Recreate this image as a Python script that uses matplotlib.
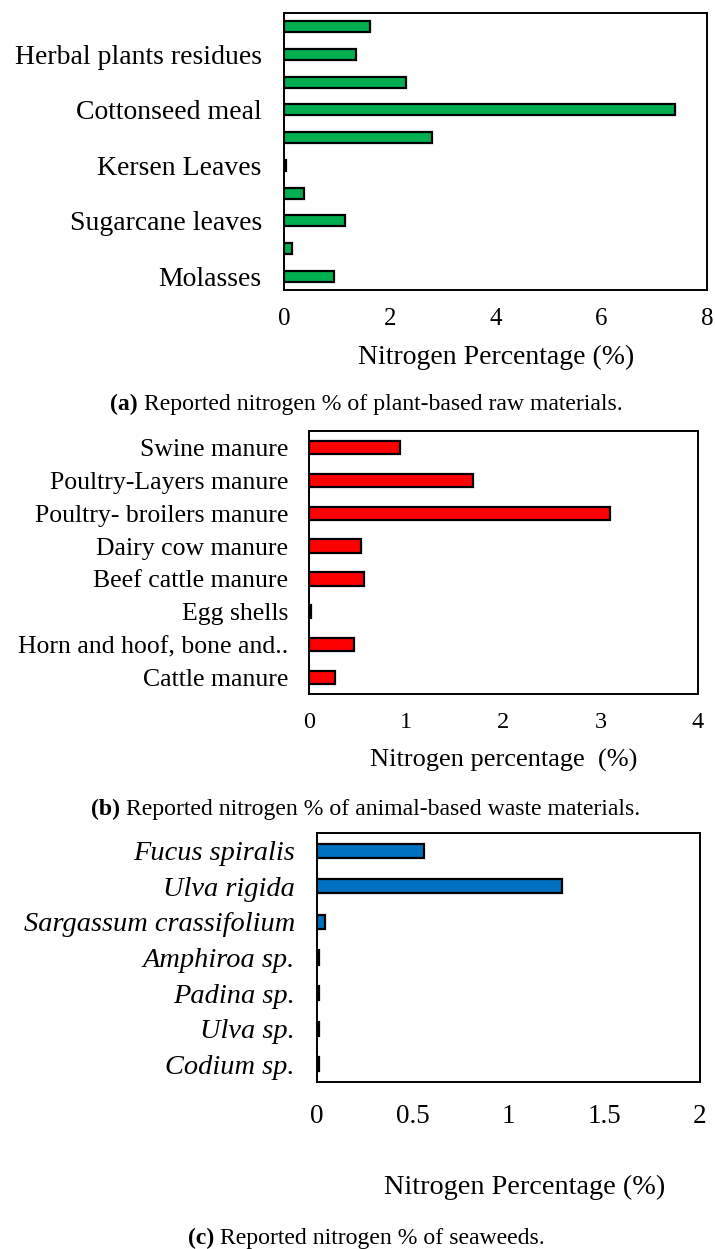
import matplotlib
matplotlib.use("Agg")
import matplotlib.pyplot as plt

plt.rcParams['font.family'] = ['Liberation Serif', 'DejaVu Serif']

# (a) plant-based raw materials, bottom to top (hidden labels left blank)
plant_labels = ['Molasses', '', 'Sugarcane leaves', '', 'Kersen Leaves', '',
                'Cottonseed meal', '', 'Herbal plants residues', '']
plant_values = [0.95, 0.16, 1.15, 0.37, 0.03, 2.79, 7.39, 2.31, 1.37, 1.63]
plant_ticks = [0, 2, 4, 6, 8]

# (b) animal-based waste materials, bottom to top
animal_labels = ['Cattle manure', 'Horn and hoof, bone and..', 'Egg shells',
                 'Beef cattle manure', 'Dairy cow manure',
                 'Poultry- broilers manure', 'Poultry-Layers manure', 'Swine manure']
animal_values = [0.27, 0.46, 0.02, 0.57, 0.53, 3.09, 1.69, 0.94]
animal_ticks = [0, 1, 2, 3, 4]

# (c) seaweeds, bottom to top
seaweed_labels = ['Codium sp.', 'Ulva sp.', 'Padina sp.', 'Amphiroa sp.',
                  'Sargassum crassifolium', 'Ulva rigida', 'Fucus spiralis']
seaweed_values = [0.008, 0.008, 0.008, 0.008, 0.044, 1.28, 0.56]
seaweed_ticks = [0, 0.5, 1, 1.5, 2]
seaweed_ticklabels = ['0', '0.5', '1', '1.5', '2']

W, H = 715, 1249
fig = plt.figure(figsize=(W / 100, H / 100), dpi=100)


def box(left, top, right, bottom):
    return [left / W, 1 - bottom / H, (right - left) / W, (bottom - top) / H]


def panel(rect, labels, values, color, xticks, xticklabels, ylsize, xlsize,
          xpad, ypad, italic=False):
    ax = fig.add_axes(rect)
    y = list(range(len(values)))
    ax.barh(y, values, height=0.4, color=color, edgecolor='black', linewidth=1.6,
            zorder=3)
    ax.set_ylim(-0.5, len(values) - 0.5)
    ax.set_xlim(xticks[0], xticks[-1])
    ax.set_yticks(y)
    ax.set_yticklabels(labels, fontsize=ylsize,
                       fontstyle='italic' if italic else 'normal')
    ax.set_xticks(xticks)
    ax.set_xticklabels(xticklabels, fontsize=xlsize)
    ax.tick_params(axis='x', length=0, pad=xpad)
    ax.tick_params(axis='y', length=0, pad=ypad)
    for s in ax.spines.values():
        s.set_linewidth(1.4)
        s.set_color('black')
    return ax


panel(box(284, 13, 707, 290), plant_labels, plant_values, '#00B050',
      plant_ticks, [str(t) for t in plant_ticks], 20, 18, 13, 16)
panel(box(309, 431, 698, 694), animal_labels, animal_values, '#FF0000',
      animal_ticks, [str(t) for t in animal_ticks], 18.5, 17.5, 13, 15)
panel(box(317, 833, 700, 1082), seaweed_labels, seaweed_values, '#0070C0',
      seaweed_ticks, seaweed_ticklabels, 20.4, 19.5, 16, 16, italic=True)

# axis titles
fig.text(496 / W, 1 - 357 / H, 'Nitrogen Percentage (%)', fontsize=20,
         ha='center', va='center')
fig.text(504 / W, 1 - 760 / H, 'Nitrogen percentage  (%)', fontsize=19,
         ha='center', va='center')
fig.text(525 / W, 1 - 1187 / H, 'Nitrogen Percentage (%)', fontsize=20.3,
         ha='center', va='center')

# captions: bold tag + plain text
captions = [
    (110, 404, '(a)', ' Reported nitrogen % of plant-based raw materials.'),
    (91, 809, '(b)', ' Reported nitrogen % of animal-based waste materials.'),
    (188, 1238, '(c)', ' Reported nitrogen % of seaweeds.'),
]
for x, yc, tag, rest in captions:
    t = fig.text(x / W, 1 - yc / H, tag, fontsize=17.1, fontweight='bold',
                 ha='left', va='center')
    plt.annotate(rest, xy=(1, 0), xycoords=t, fontsize=17.1, ha='left',
                 va='bottom', annotation_clip=False)

fig.savefig('out.png', dpi=100)
